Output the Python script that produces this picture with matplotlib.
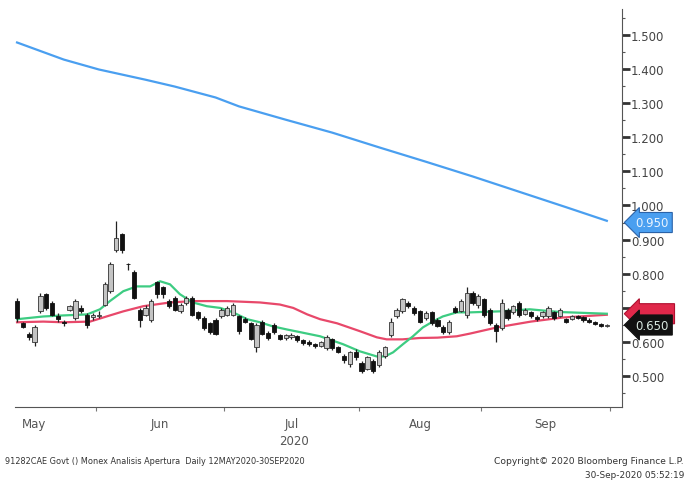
import matplotlib
matplotlib.use("Agg")
import matplotlib.pyplot as plt
import numpy as np
import pandas as pd

# trading days shown on the chart
days = pd.bdate_range("2020-05-12", "2020-09-30")

opens = [.72, .655, .625, .60, .69, .74, .715, .675, .66, .695,
         .67, .70, .68, .672, .675, .71, .75, .87, .915, .83,
         .805, .695, .68, .665, .775, .76, .72, .73, .69, .715,
         .73, .687, .67, .655, .665, .675, .68, .68, .675, .668,
         .657, .585, .66, .628, .65, .62, .612, .615, .617, .605,
         .60, .594, .59, .583, .608, .585, .56, .535, .57, .54,
         .522, .544, .532, .558, .62, .675, .69, .715, .70, .69,
         .67, .687, .665, .645, .63, .70, .69, .68, .745, .71,
         .725, .695, .65, .64, .695, .688, .715, .682, .687, .672,
         .675, .675, .687, .677, .667, .668, .676, .672, .666, .66,
         .652, .648]
highs = [.73, .66, .63, .65, .745, .745, .72, .685, .665, .71,
         .725, .71, .685, .685, .69, .775, .835, .955, .92, .832,
         .81, .70, .71, .725, .78, .765, .725, .735, .715, .735,
         .735, .69, .675, .66, .67, .70, .705, .715, .68, .672,
         .66, .655, .665, .632, .655, .625, .625, .627, .62, .61,
         .605, .598, .603, .62, .612, .59, .565, .575, .58, .545,
         .56, .55, .578, .59, .67, .70, .73, .72, .705, .695,
         .69, .69, .67, .65, .665, .705, .725, .76, .75, .74,
         .73, .70, .655, .725, .70, .71, .72, .70, .69, .678,
         .69, .705, .69, .70, .67, .678, .68, .675, .67, .663,
         .655, .654]
lows = [.66, .64, .605, .59, .685, .695, .675, .66, .648, .69,
        .665, .685, .64, .665, .67, .705, .745, .865, .86, .81,
        .725, .645, .675, .66, .73, .73, .70, .69, .685, .71,
        .675, .665, .635, .625, .62, .67, .675, .675, .625, .655,
        .605, .57, .62, .605, .625, .605, .607, .61, .60, .592,
        .59, .583, .585, .578, .578, .568, .54, .528, .548, .51,
        .518, .51, .528, .553, .615, .67, .685, .70, .68, .655,
        .665, .65, .645, .625, .625, .685, .688, .67, .71, .70,
        .672, .65, .60, .635, .665, .683, .673, .678, .67, .662,
        .67, .67, .665, .672, .655, .664, .667, .66, .655, .65,
        .644, .645]
closes = [.67, .645, .615, .645, .735, .70, .68, .668, .655, .705,
          .72, .69, .65, .678, .68, .77, .83, .905, .87, .828,
          .73, .665, .70, .72, .74, .74, .705, .695, .71, .73,
          .68, .67, .64, .63, .625, .695, .70, .71, .632, .66,
          .61, .65, .625, .612, .63, .61, .62, .622, .605, .597,
          .594, .588, .60, .615, .582, .572, .547, .57, .555, .515,
          .555, .515, .572, .585, .66, .695, .725, .705, .685, .66,
          .685, .655, .648, .63, .66, .688, .72, .745, .715, .735,
          .678, .655, .632, .715, .67, .705, .678, .695, .675, .668,
          .687, .70, .67, .695, .66, .675, .671, .665, .659, .653,
          .647, .65]

# moving averages (day index, value)
blue_idx = [0, 8, 14, 22, 27, 34, 38, 46, 54, 62, 70, 78, 86, 94, 101]
blue_val = [1.477, 1.427, 1.398, 1.368, 1.348, 1.316, 1.290, 1.251, 1.213,
            1.170, 1.128, 1.085, 1.040, 0.995, 0.955]

green_idx = [0, 4.5, 7.9, 12, 14.2, 15.9, 18.2, 20.5, 22.8, 24.5, 26.2, 27.9,
             30.1, 32.5, 34.8, 37, 39.4, 41.6, 43.8, 46.2, 48.5, 51.9, 55.8,
             58.7, 61.6, 63, 64.4, 66.1, 67.8, 69.5, 71.2, 72.9, 75.3, 77.6,
             82.7, 87.8, 93, 101]
green_val = [0.667, 0.675, 0.678, 0.681, 0.696, 0.72, 0.749, 0.763, 0.763,
             0.778, 0.769, 0.74, 0.716, 0.705, 0.70, 0.687, 0.667, 0.658,
             0.646, 0.637, 0.629, 0.617, 0.594, 0.573, 0.558, 0.558, 0.57,
             0.594, 0.617, 0.643, 0.66, 0.675, 0.687, 0.687, 0.69, 0.696,
             0.688, 0.683]

red_idx = [0, 4.5, 7.9, 12.5, 15.9, 18.2, 21.6, 26.2, 30.1, 36, 41.6, 45,
           47.3, 49.7, 51.9, 54.8, 58.7, 61.6, 63.3, 66, 69, 72, 75.3, 77.6,
           82.2, 88, 93.5, 101]
red_val = [0.658, 0.66, 0.658, 0.66, 0.678, 0.69, 0.705, 0.716, 0.72, 0.72,
           0.716, 0.71, 0.70, 0.681, 0.667, 0.655, 0.632, 0.614, 0.608, 0.608,
           0.612, 0.613, 0.617, 0.625, 0.643, 0.66, 0.672, 0.68]

last_blue = 0.950
last_red = 0.683
last_close = 0.650

fig = plt.figure(figsize=(6.9, 4.85), dpi=100)
ax = fig.add_axes([15 / 690, 77 / 485, 607 / 690, 398 / 485])

x = np.arange(len(days))
o = np.array(opens)
c = np.array(closes)
up = c >= o

# wicks then bodies
ax.vlines(x, lows, highs, color="#222222", lw=0.9, zorder=3)
ax.bar(x[up], (c - o)[up], bottom=o[up], width=0.72,
       color="#c4c4c4", edgecolor="#333333", lw=0.6, zorder=4)
ax.bar(x[~up], (o - c)[~up], bottom=c[~up], width=0.72,
       color="#111111", edgecolor="#111111", lw=0.6, zorder=4)

ax.plot(blue_idx, blue_val, color="#4a9ff0", lw=1.6, zorder=2)
ax.plot(red_idx, red_val, color="#e8486a", lw=1.6, zorder=2)
ax.plot(green_idx, green_val, color="#3dcc82", lw=1.6, zorder=2)

ax.set_xlim(-0.35, 103.6)
ax.set_ylim(0.41, 1.575)

# right hand price axis
ax.yaxis.tick_right()
ax.set_yticks(np.arange(0.5, 1.51, 0.1))
ax.set_yticks(np.arange(0.45, 1.56, 0.05), minor=True)
ax.set_yticklabels([f"{v:.3f}" for v in np.arange(0.5, 1.51, 0.1)])
ax.tick_params(axis="y", which="major", length=6, width=2, color="#333333",
               labelsize=8.5, labelcolor="#444444", pad=0.5)
ax.tick_params(axis="y", which="minor", length=2.5, width=0.8, color="#555555")

for s in ["top", "left"]:
    ax.spines[s].set_visible(False)
ax.spines["right"].set_color("#555555")
ax.spines["bottom"].set_color("#555555")

# month boundaries and month labels
full = pd.bdate_range("2020-05-01", "2020-10-30")
shift = list(full).index(days[0])
month_start = [i - shift - 0.5 for i in range(len(full))
               if i == 0 or full[i].month != full[i - 1].month]
ax.set_xticks(month_start[1:6])
ax.set_xticklabels([])
ax.tick_params(axis="x", length=3, color="#777777")
month_names = ["May", "Jun", "Jul", "Aug", "Sep"]
for k, name in enumerate(month_names):
    mid = (month_start[k] + month_start[k + 1]) / 2
    ax.text(mid, -0.025, name, transform=ax.get_xaxis_transform(),
            ha="center", va="top", fontsize=8.5, color="#555555")
ax.text(47.5, -0.068, "2020", transform=ax.get_xaxis_transform(),
        ha="center", va="top", fontsize=8.5, color="#555555")

# last value tags (the red one sits behind the black one)
tags = [(last_blue, "0.950", "#4a9ff0", "#2a62a8", "#e8f3ff"),
        (last_red, "", "#e0284a", "#b01030", "#e0284a"),
        (last_close, "0.650", "#111111", "#111111", "#d8e8e0")]
for val, txt, fc, ec, tc in tags:
    label = txt if txt else "     "
    ax.text(1.022, val, label, transform=ax.get_yaxis_transform(),
            ha="left", va="center", fontsize=8.5, color=tc, clip_on=False,
            zorder=10, family="DejaVu Sans Mono" if not txt else None,
            bbox=dict(boxstyle="larrow,pad=0.3", fc=fc, ec=ec, lw=0.8))

fig.text(5 / 690, 1 - 462 / 485,
         "91282CAE Govt () Monex Analisis Apertura  Daily 12MAY2020-30SEP2020",
         fontsize=5.9, color="#333333", va="center", ha="left")
fig.text(684 / 690, 1 - 462 / 485, "Copyright\u00a9 2020 Bloomberg Finance L.P.",
         fontsize=6.6, color="#333333", va="center", ha="right")
fig.text(684 / 690, 1 - 476 / 485, "30-Sep-2020 05:52:19",
         fontsize=6.4, color="#333333", va="center", ha="right")

fig.savefig("out.png", dpi=100)
